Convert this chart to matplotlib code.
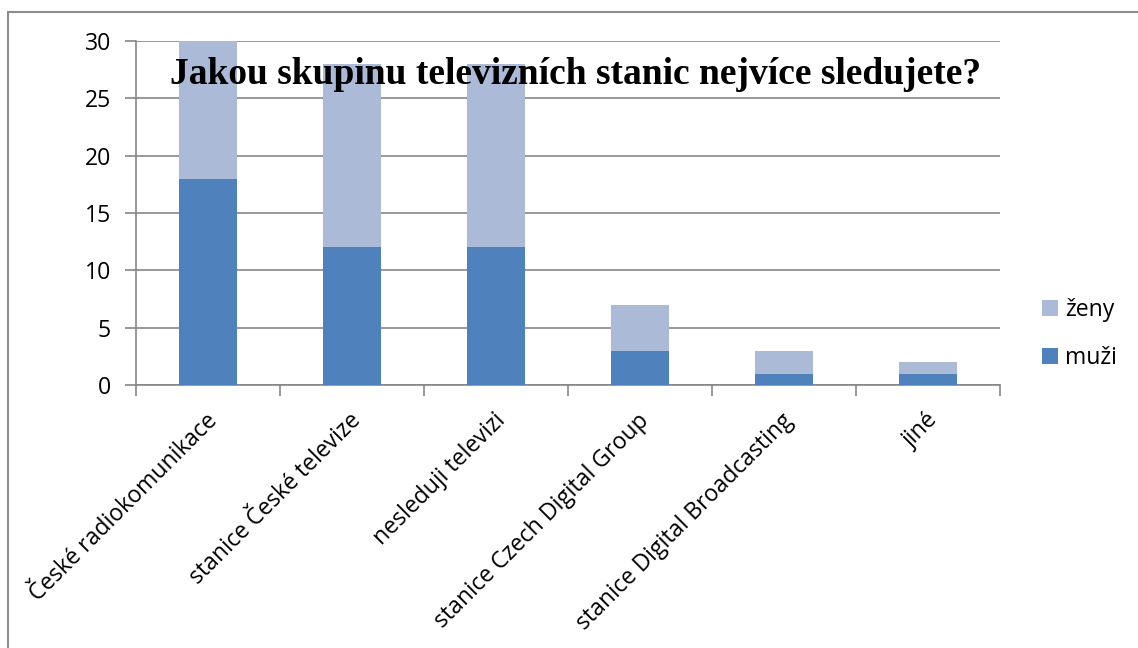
import matplotlib
matplotlib.use("Agg")
import matplotlib.pyplot as plt
from matplotlib.patches import Rectangle
import numpy as np

categories = ["České radiokomunikace", "stanice České televize", "nesleduji televizi",
              "stanice Czech Digital Group", "stanice Digital Broadcasting", "jiné"]
muzi = [18, 12, 12, 3, 1, 1]
zeny = [12, 16, 16, 4, 2, 1]
yticks = [0, 5, 10, 15, 20, 25, 30]
title = "Jakou skupinu televizních stanic nejvíce sledujete?"

W, H = 1138, 648
fig = plt.figure(figsize=(W / 100, H / 100), dpi=100)
fig.patch.set_facecolor("white")

FS = 16.6

# outer frame
fig.patches.append(Rectangle((8 / W, -0.1), 1.2, 1 - 12 / H + 0.1, transform=fig.transFigure,
                             fill=False, edgecolor="#8c8c8c", linewidth=1.5))

left, right = 136 / W, 1000 / W
bottom, top = 1 - 385 / H, 1 - 41 / H
ax = fig.add_axes([left, bottom, right - left, top - bottom])

x = np.arange(len(categories))
c_m = "#4F81BD"
c_z = "#AABAD7"
ax.bar(x, muzi, width=0.4, color=c_m, label="muži", zorder=3)
ax.bar(x, zeny, width=0.4, bottom=muzi, color=c_z, label="ženy", zorder=3)

ax.set_xlim(-0.5, len(categories) - 0.5)
ax.set_ylim(0, 30)
ax.set_yticks(yticks)
ax.set_yticklabels([str(v) for v in yticks], fontfamily="Open Sans", fontsize=FS)
ax.grid(axis="y", color="#868686", linewidth=1.2, zorder=0)
ax.set_axisbelow(True)

for s in ["top", "right"]:
    ax.spines[s].set_visible(False)
for s in ["left", "bottom"]:
    ax.spines[s].set_color("#868686")
    ax.spines[s].set_linewidth(1.2)

ax.tick_params(axis="y", length=8, width=1.2, color="#868686", pad=10)
ax.set_xticks(np.arange(len(categories) + 1) - 0.5)
ax.tick_params(axis="x", length=8, width=1.2, color="#868686", labelbottom=False)

for i, lab in enumerate(categories):
    ax.annotate(lab, xy=(i, 0), xycoords="data", xytext=(-2, -17), textcoords="offset points",
                rotation=45, ha="right", va="top", rotation_mode="anchor",
                fontfamily="Open Sans", fontsize=FS)

fig.text(576 / W, 1 - 74 / H, title, ha="center", va="center",
         fontfamily="Liberation Serif", fontweight="bold", fontsize=27)

handles, labels = ax.get_legend_handles_labels()
leg = fig.legend(handles[::-1], labels[::-1], loc="center left",
                 bbox_to_anchor=(1021 / W, 1 - 334 / H), frameon=False,
                 prop={"family": "Open Sans", "size": FS}, handlelength=0.7, handleheight=0.7,
                 handletextpad=0.3, labelspacing=1.05)

fig.savefig("out.png", dpi=100)
